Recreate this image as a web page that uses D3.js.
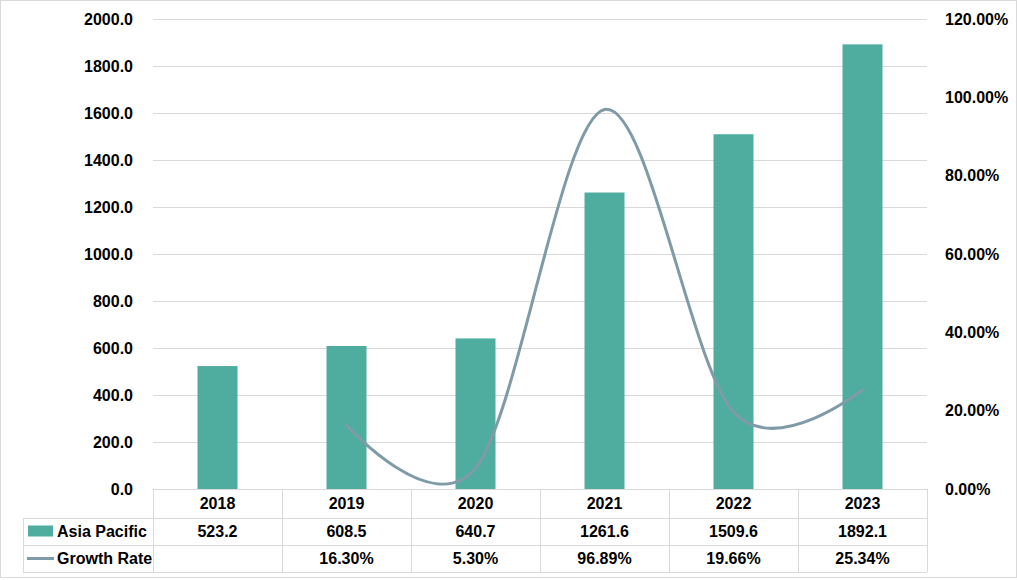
<!DOCTYPE html>
<html>
<head>
<meta charset="utf-8">
<script src="https://cdn.jsdelivr.net/npm/d3@7"></script>
<style>
  body { margin: 0; background: #fff; }
  svg { display: block; font-family: "Liberation Sans", Arial, sans-serif; }
</style>
</head>
<body>
<svg id="chart" width="1017" height="580"></svg>
<script>
// values
const years = ["2018", "2019", "2020", "2021", "2022", "2023"]
const asiaPacific = [523.2, 608.5, 640.7, 1261.6, 1509.6, 1892.1]
const growthRate = [null, 16.30, 5.30, 96.89, 19.66, 25.34]
const leftTicks = [0, 200, 400, 600, 800, 1000, 1200, 1400, 1600, 1800, 2000]
const rightTicks = [0, 20, 40, 60, 80, 100, 120]

const barColor = "#4fad9f"
const lineColor = "#7f9ba7"
const gridColor = "#d9d9d9"

const svg = d3.select("#chart")
const W = 1017, H = 580
const plot = { left: 153, right: 927, top: 19, bottom: 489 }
const rowH = [29, 27, 27] // header, Asia Pacific, Growth Rate

// outer border
svg.append("rect")
  .attr("x", 0.5).attr("y", 0.5)
  .attr("width", W - 1).attr("height", H - 3)
  .attr("fill", "none").attr("stroke", gridColor)

const x = d3.scaleBand().domain(years).range([plot.left, plot.right])
const yL = d3.scaleLinear().domain([0, 2000]).range([plot.bottom, plot.top])
const yR = d3.scaleLinear().domain([0, 120]).range([plot.bottom, plot.top])

// gridlines
svg.append("g")
  .selectAll("line")
  .data(leftTicks.slice(1))
  .join("line")
  .attr("x1", plot.left).attr("x2", plot.right)
  .attr("y1", d => Math.round(yL(d)) + 0.5).attr("y2", d => Math.round(yL(d)) + 0.5)
  .attr("stroke", gridColor)

// left axis labels
svg.append("g")
  .selectAll("text")
  .data(leftTicks)
  .join("text")
  .attr("x", 133)
  .attr("y", d => yL(d))
  .attr("dy", "0.35em")
  .attr("text-anchor", "end")
  .attr("font-size", 16)
  .attr("font-weight", "bold")
  .attr("fill", "#000")
  .text(d => d.toFixed(1))

// right axis labels
svg.append("g")
  .selectAll("text")
  .data(rightTicks)
  .join("text")
  .attr("x", 945)
  .attr("y", d => yR(d))
  .attr("dy", "0.35em")
  .attr("text-anchor", "start")
  .attr("font-size", 16)
  .attr("font-weight", "bold")
  .attr("fill", "#000")
  .text(d => d.toFixed(2) + "%")

// bars
const barW = 40
svg.append("g")
  .selectAll("rect")
  .data(asiaPacific)
  .join("rect")
  .attr("x", (d, i) => x(years[i]) + x.bandwidth() / 2 - barW / 2)
  .attr("y", d => yL(d))
  .attr("width", barW)
  .attr("height", d => plot.bottom - yL(d))
  .attr("fill", barColor)

// growth line, smoothed like the spreadsheet
const pts = growthRate.map((g, i) => ({ yr: years[i], g })).filter(d => d.g != null)
const line = d3.line()
  .x(d => x(d.yr) + x.bandwidth() / 2)
  .y(d => yR(d.g))
  .curve(d3.curveCardinal.tension(0))
svg.append("path")
  .datum(pts)
  .attr("d", line)
  .attr("fill", "none")
  .attr("stroke", lineColor)
  .attr("stroke-width", 3)
  .attr("stroke-linecap", "round")

// data table
const tableLeft = 23
const rowY = [plot.bottom, plot.bottom + rowH[0], plot.bottom + rowH[0] + rowH[1], plot.bottom + rowH[0] + rowH[1] + rowH[2]]
const table = svg.append("g")

// horizontal lines
table.append("line")
  .attr("x1", plot.left).attr("x2", plot.right)
  .attr("y1", rowY[0] + 0.5).attr("y2", rowY[0] + 0.5)
  .attr("stroke", gridColor)
rowY.slice(1).forEach(yy => {
  table.append("line")
    .attr("x1", tableLeft).attr("x2", plot.right)
    .attr("y1", yy + 0.5).attr("y2", yy + 0.5)
    .attr("stroke", gridColor)
})
// vertical lines
const colEdges = years.map(y => x(y)).concat([plot.right])
colEdges.forEach(xx => {
  table.append("line")
    .attr("x1", Math.round(xx) + 0.5).attr("x2", Math.round(xx) + 0.5)
    .attr("y1", rowY[0]).attr("y2", rowY[3])
    .attr("stroke", gridColor)
})
table.append("line")
  .attr("x1", tableLeft + 0.5).attr("x2", tableLeft + 0.5)
  .attr("y1", rowY[1]).attr("y2", rowY[3])
  .attr("stroke", gridColor)

const cellText = (row, vals, fmt) => {
  table.append("g")
    .selectAll("text")
    .data(vals)
    .join("text")
    .attr("x", (d, i) => x(years[i]) + x.bandwidth() / 2)
    .attr("y", (rowY[row] + rowY[row + 1]) / 2)
    .attr("dy", "0.35em")
    .attr("text-anchor", "middle")
    .attr("font-size", 16)
    .attr("font-weight", "bold")
    .attr("fill", "#000")
    .text(fmt)
}
cellText(0, years, d => d)
cellText(1, asiaPacific, d => d.toFixed(1))
cellText(2, growthRate, d => d == null ? "" : d.toFixed(2) + "%")

// legend keys in the table
const r1 = (rowY[1] + rowY[2]) / 2, r2 = (rowY[2] + rowY[3]) / 2
table.append("rect")
  .attr("x", 28).attr("y", r1 - 6)
  .attr("width", 25).attr("height", 11)
  .attr("fill", barColor)
table.append("line")
  .attr("x1", 27).attr("x2", 54)
  .attr("y1", r2).attr("y2", r2)
  .attr("stroke", lineColor).attr("stroke-width", 3)
table.selectAll("text.key")
  .data([["Asia Pacific", r1], ["Growth Rate", r2]])
  .join("text")
  .attr("class", "key")
  .attr("x", 57)
  .attr("y", d => d[1])
  .attr("dy", "0.35em")
  .attr("font-size", 16)
  .attr("font-weight", "bold")
  .attr("fill", "#000")
  .text(d => d[0])
</script>
</body>
</html>
